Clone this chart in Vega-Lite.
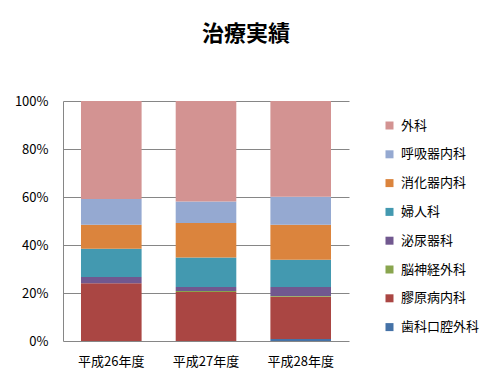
{
  "$schema": "https://vega.github.io/schema/vega-lite/v6.json",
  "width": 286,
  "height": 240,
  "autosize": {"type": "none"},
  "padding": {"left": 63, "top": 101, "right": 143, "bottom": 48},
  "background": "white",
  "title": {
    "text": "治療実績",
    "font": "Noto Sans CJK JP",
    "fontSize": 22,
    "fontWeight": "bold",
    "color": "#000000",
    "anchor": "middle",
    "dx": 40,
    "offset": 49
  },
  "config": {
    "view": {"stroke": null},
    "font": "Noto Sans CJK JP"
  },
  "data": {
    "values": [
      {"year": "平成26年度", "dept": "歯科口腔外科", "value": 0},
      {"year": "平成26年度", "dept": "膠原病内科", "value": 24.1},
      {"year": "平成26年度", "dept": "脳神経外科", "value": 0},
      {"year": "平成26年度", "dept": "泌尿器科", "value": 2.6},
      {"year": "平成26年度", "dept": "婦人科", "value": 11.7},
      {"year": "平成26年度", "dept": "消化器内科", "value": 10.0},
      {"year": "平成26年度", "dept": "呼吸器内科", "value": 10.8},
      {"year": "平成26年度", "dept": "外科", "value": 40.8},
      {"year": "平成27年度", "dept": "歯科口腔外科", "value": 0},
      {"year": "平成27年度", "dept": "膠原病内科", "value": 20.4},
      {"year": "平成27年度", "dept": "脳神経外科", "value": 0.4},
      {"year": "平成27年度", "dept": "泌尿器科", "value": 1.7},
      {"year": "平成27年度", "dept": "婦人科", "value": 12.3},
      {"year": "平成27年度", "dept": "消化器内科", "value": 14.4},
      {"year": "平成27年度", "dept": "呼吸器内科", "value": 8.9},
      {"year": "平成27年度", "dept": "外科", "value": 41.9},
      {"year": "平成28年度", "dept": "歯科口腔外科", "value": 0.8},
      {"year": "平成28年度", "dept": "膠原病内科", "value": 17.6},
      {"year": "平成28年度", "dept": "脳神経外科", "value": 0.4},
      {"year": "平成28年度", "dept": "泌尿器科", "value": 3.7},
      {"year": "平成28年度", "dept": "婦人科", "value": 11.4},
      {"year": "平成28年度", "dept": "消化器内科", "value": 14.5},
      {"year": "平成28年度", "dept": "呼吸器内科", "value": 11.7},
      {"year": "平成28年度", "dept": "外科", "value": 39.9}
    ]
  },
  "transform": [
    {"calculate": "indexof(['歯科口腔外科', '膠原病内科', '脳神経外科', '泌尿器科', '婦人科', '消化器内科', '呼吸器内科', '外科'], datum.dept)", "as": "stackOrder"}
  ],
  "mark": {"type": "bar", "strokeWidth": 0},
  "encoding": {
    "x": {
      "field": "year",
      "type": "nominal",
      "title": null,
      "scale": {"paddingInner": 0.36, "paddingOuter": 0.19},
      "axis": {
        "labelAngle": 0,
        "labelFontSize": 13,
        "labelColor": "#000000",
        "labelPadding": 14,
        "ticks": false,
        "domain": false,
        "grid": false
      }
    },
    "y": {
      "field": "value",
      "type": "quantitative",
      "stack": "normalize",
      "title": null,
      "scale": {"domain": [0, 1], "nice": false},
      "axis": {
        "values": [0, 0.2, 0.4, 0.6, 0.8, 1],
        "format": ".0%",
        "labelFontSize": 13,
        "labelColor": "#000000",
        "labelPadding": 15,
        "ticks": false,
        "domain": true,
        "domainColor": "#868686",
        "domainWidth": 1,
        "grid": true,
        "gridColor": "#868686",
        "gridWidth": 1,
        "gridOpacity": 1
      }
    },
    "order": {"field": "stackOrder", "type": "quantitative", "sort": "ascending"},
    "color": {
      "field": "dept",
      "type": "nominal",
      "sort": ["外科", "呼吸器内科", "消化器内科", "婦人科", "泌尿器科", "脳神経外科", "膠原病内科", "歯科口腔外科"],
      "scale": {
        "domain": ["外科", "呼吸器内科", "消化器内科", "婦人科", "泌尿器科", "脳神経外科", "膠原病内科", "歯科口腔外科"],
        "range": ["#D39392", "#95A9D1", "#DB843D", "#4399B0", "#71588F", "#89A54E", "#AA4643", "#4572A7"]
      },
      "legend": {
        "title": null,
        "orient": "none",
        "legendX": 320,
        "legendY": 18,
        "padding": 0,
        "symbolType": "square",
        "symbolSize": 64,
        "symbolStrokeWidth": 0,
        "labelFontSize": 13,
        "labelColor": "#000000",
        "labelOffset": 5,
        "rowPadding": 14.8
      }
    }
  }
}
